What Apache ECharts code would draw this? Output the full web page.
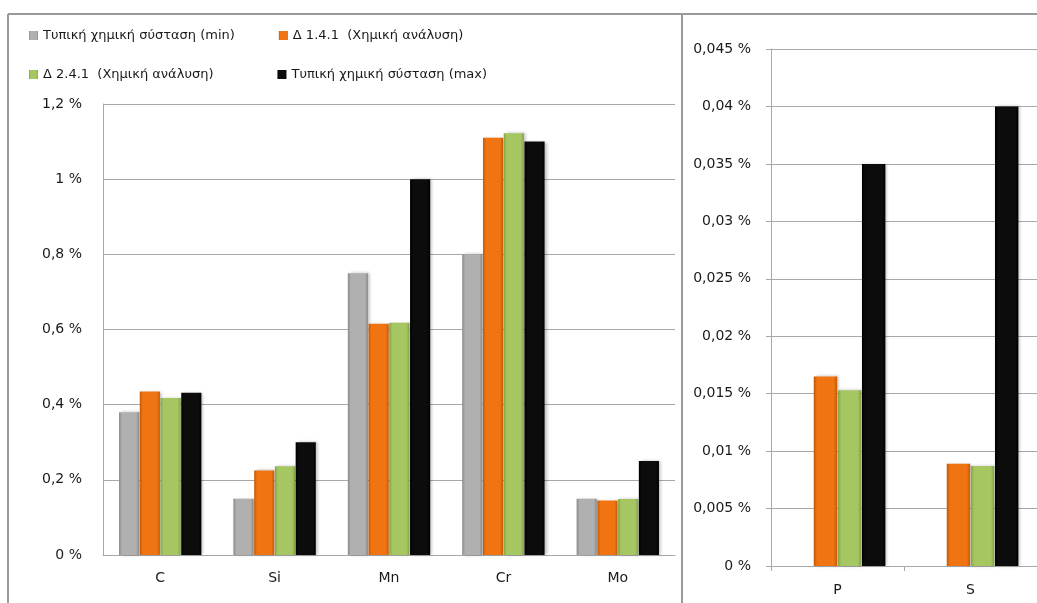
<!DOCTYPE html>
<html>
<head>
<meta charset="utf-8">
<script src="https://cdn.jsdelivr.net/npm/echarts@6/dist/echarts.min.js"></script>
<style>
  html, body { margin: 0; padding: 0; background: #fff; }
  #chart { width: 1037px; height: 603px; }
</style>
</head>
<body>
<div id="chart"></div>
<script>
// Main elements (percent by weight)
const mainElements = ['C', 'Si', 'Mn', 'Cr', 'Mo'];
const mainMin   = [0.38, 0.15, 0.75, 0.80, 0.15];
const main141   = [0.435, 0.225, 0.615, 1.11, 0.145];
const main241   = [0.418, 0.236, 0.618, 1.122, 0.149];
const mainMax   = [0.432, 0.30, 1.00, 1.10, 0.25];

// Trace elements (percent by weight)
const traceElements = ['P', 'S'];
const traceMin  = [null, null];
const trace141  = [0.0165, 0.0089];
const trace241  = [0.0153, 0.0087];
const traceMax  = [0.035, 0.040];

const seriesNames = [
  'Τυπική χημική σύσταση (min)',
  'Δ 1.4.1  (Χημική ανάλυση)',
  'Δ 2.4.1  (Χημική ανάλυση)',
  'Τυπική χημική σύσταση (max)'
];

// Base colour, edge colour for each series
const palette = [
  ['#b0b0b0', '#8a8a8a'],
  ['#f07412', '#c45a06'],
  ['#a6c662', '#84a345'],
  ['#0c0c0c', '#000000']
];

function barFill(i) {
  const [c, e] = palette[i];
  return new echarts.graphic.LinearGradient(0, 0, 1, 0, [
    { offset: 0, color: e },
    { offset: 0.15, color: c },
    { offset: 0.85, color: c },
    { offset: 1, color: e }
  ]);
}

function pct(v) {
  return String(parseFloat(v.toFixed(4))).replace('.', ',') + ' %';
}

const FONT = 'DejaVu Sans';
const txt = { color: '#1a1a1a', fontFamily: FONT, fontSize: 13 };

const mainData = [mainMin, main141, main241, mainMax];
const traceData = [traceMin, trace141, trace241, traceMax];

const shadow = { shadowBlur: 3, shadowOffsetX: 2, shadowOffsetY: 0, shadowColor: 'rgba(0,0,0,0.25)' };
const series = [];
mainData.forEach((d, i) => series.push({
  name: seriesNames[i], type: 'bar', xAxisIndex: 0, yAxisIndex: 0, data: d,
  barGap: '3%', barCategoryGap: '28%',
  itemStyle: Object.assign({ color: barFill(i) }, shadow)
}));
traceData.forEach((d, i) => series.push({
  name: seriesNames[i], type: 'bar', xAxisIndex: 1, yAxisIndex: 1, data: d,
  barGap: '3%', barCategoryGap: '28%',
  itemStyle: Object.assign({ color: barFill(i) }, shadow)
}));

const legendBase = {
  orient: 'horizontal', left: 24, itemWidth: 9, itemHeight: 9,
  icon: 'rect', selectedMode: false,
  textStyle: Object.assign({}, txt)
};

const gridLine = { show: true, lineStyle: { color: '#a8a8a8', width: 1 } };
const axisGray = { color: '#a8a8a8' };

const chart = echarts.init(document.getElementById('chart'), null, { renderer: 'canvas' });
chart.setOption({
  animation: false,
  backgroundColor: '#ffffff',
  color: palette.map(p => p[0]),
  legend: [
    Object.assign({}, legendBase, { top: 24, itemGap: 44, data: [seriesNames[0], seriesNames[1]] }),
    Object.assign({}, legendBase, { top: 63, itemGap: 64, data: [seriesNames[2], seriesNames[3]] })
  ],
  grid: [
    { left: 103, right: 362, top: 104, bottom: 48 },
    { left: 771, width: 280, top: 49, bottom: 37 }
  ],
  xAxis: [
    {
      type: 'category', gridIndex: 0, data: mainElements,
      axisLine: { show: true, lineStyle: axisGray },
      axisTick: { show: false },
      axisLabel: Object.assign({ margin: 16 }, txt, { fontSize: 14 })
    },
    {
      type: 'category', gridIndex: 1, data: traceElements,
      axisLine: { show: true, lineStyle: axisGray },
      axisTick: { show: true, length: 5, lineStyle: axisGray },
      axisLabel: Object.assign({ margin: 17 }, txt, { fontSize: 14 })
    }
  ],
  yAxis: [
    {
      type: 'value', gridIndex: 0, min: 0, max: 1.2, interval: 0.2,
      axisLine: { show: true, lineStyle: axisGray },
      axisTick: { show: false },
      splitLine: gridLine,
      axisLabel: Object.assign({ margin: 21, formatter: pct }, txt, { fontSize: 14 })
    },
    {
      type: 'value', gridIndex: 1, min: 0, max: 0.045, interval: 0.005,
      axisLine: { show: true, lineStyle: axisGray },
      axisTick: { show: true, length: 5, lineStyle: axisGray },
      splitLine: gridLine,
      axisLabel: Object.assign({ margin: 20, formatter: pct }, txt, { fontSize: 14 })
    }
  ],
  graphic: [
    { type: 'line', shape: { x1: 8, y1: 14, x2: 1037, y2: 14 }, style: { stroke: '#9a9a9a', lineWidth: 2 } },
    { type: 'line', shape: { x1: 8, y1: 14, x2: 8, y2: 603 }, style: { stroke: '#9a9a9a', lineWidth: 2 } },
    { type: 'line', shape: { x1: 682, y1: 14, x2: 682, y2: 603 }, style: { stroke: '#9a9a9a', lineWidth: 2 } }
  ],
  series: series
});
</script>
</body>
</html>
